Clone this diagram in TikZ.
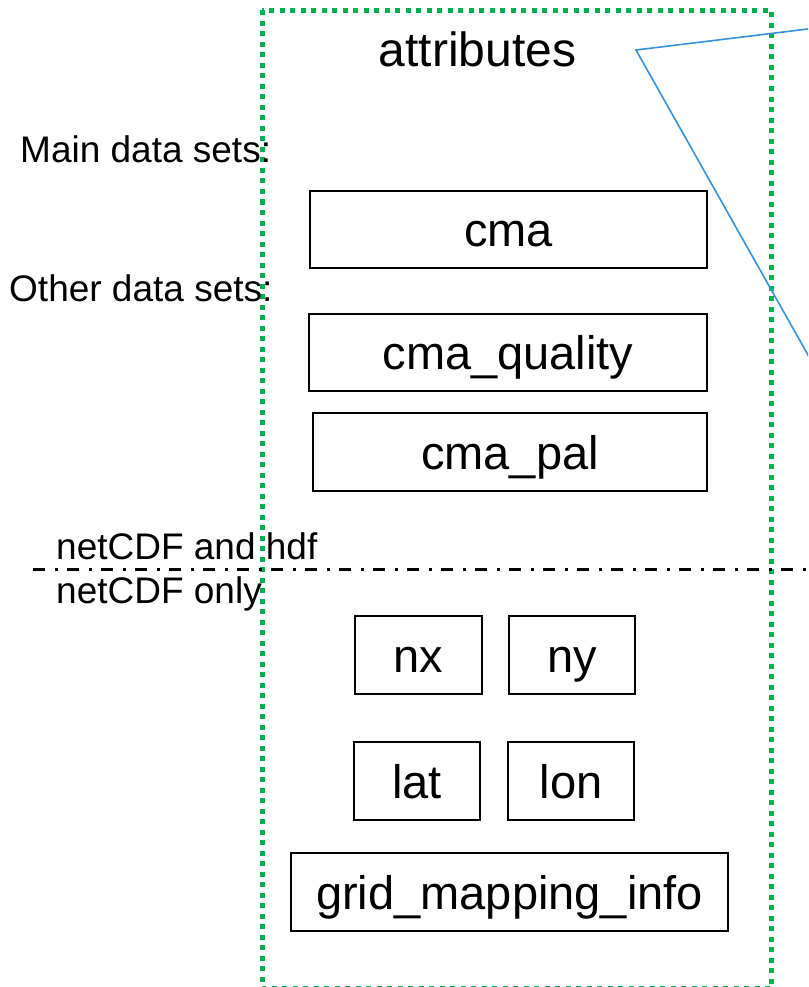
\documentclass[tikz,border=0pt]{standalone}
\usepackage{fontspec}
\setmainfont{Liberation Sans}
\begin{document}
\begin{tikzpicture}[x=1pt,y=-1pt,
  databox/.style={draw=black,line width=1.6pt,inner sep=0pt,text height=34pt,text depth=0pt,font=\fontsize{47}{47}\selectfont},
  sidelabel/.style={anchor=base west,inner sep=0pt,font=\fontsize{37}{37}\selectfont},
  greenframe/.style={draw={rgb,255:red,0;green,176;blue,80},line width=5pt,dash pattern=on 5pt off 5.5pt},
  callout/.style={draw={rgb,255:red,52;green,146;blue,220},line width=1.6pt,line join=miter},
  divider/.style={draw=black,line width=3pt,dash pattern=on 12pt off 10pt on 3pt off 9pt}]
\useasboundingbox (0,0) rectangle (808,987);
\clip (0,0) rectangle (808,987);
% green frame
\draw[greenframe] (262,10.5) rectangle (771,988);
% boxes
\node[databox,minimum width=397pt,minimum height=77pt] (cma) at (508.5,229.5) {cma};
\node[databox,minimum width=398pt,minimum height=77pt] (cmaq) at (508,352.5) {cma\_quality};
\node[databox,minimum width=394pt,minimum height=78pt] (cmap) at (510,452) {cma\_pal};
\node[databox,minimum width=127pt,minimum height=78pt] (nx) at (418.5,655) {nx};
\node[databox,minimum width=126pt,minimum height=78pt] (ny) at (572,655) {ny};
\node[databox,minimum width=126pt,minimum height=78pt] (lat) at (417,781) {lat};
\node[databox,minimum width=126pt,minimum height=78pt] (lon) at (571,781) {lon};
\node[databox,minimum width=437pt,minimum height=78pt] (grid) at (509.5,892) {grid\_mapping\_info};
% labels
\node[anchor=base,inner sep=0pt,font=\fontsize{48}{48}\selectfont] (attr) at (477.5,67) {attributes};
\node[sidelabel] (main) at (20,163) {Main data sets:};
\node[sidelabel] (other) at (9,301) {Other data sets:};
\node[sidelabel] (both) at (56,559) {netCDF and hdf};
\node[sidelabel] (only) at (56,603) {netCDF only};
% divider
\coordinate (dl) at (33,569.5);
\coordinate (dr) at (810,569.5);
\draw[divider] (dl) -- (dr);
% callout pointer
\coordinate (tip) at (636,50);
\coordinate (ca) at (830,26.3);
\coordinate (cb) at (830,394);
\draw[callout] (ca) -- (tip) -- (cb);
\end{tikzpicture}
\end{document}
